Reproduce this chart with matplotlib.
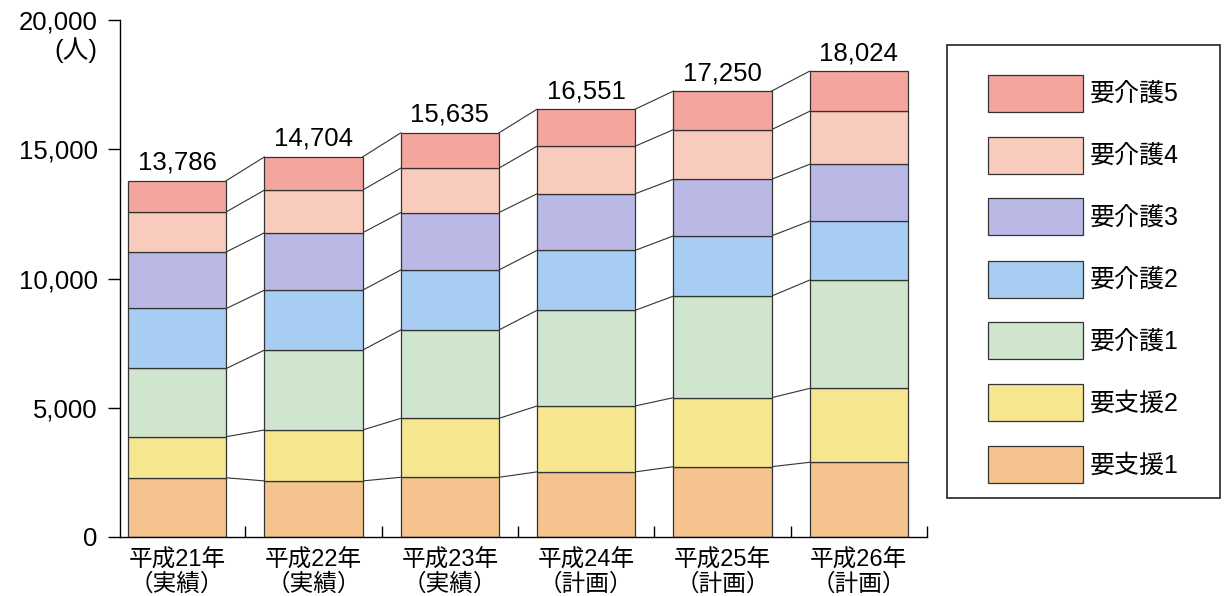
import matplotlib.pyplot as plt
from matplotlib.patches import Patch, Rectangle
from matplotlib.ticker import FuncFormatter

plt.rcParams['font.family'] = ['Liberation Sans', 'Noto Sans CJK JP', 'DejaVu Sans']

# 年度
years = ['平成21年\n（実績）', '平成22年\n（実績）', '平成23年\n（実績）',
         '平成24年\n（計画）', '平成25年\n（計画）', '平成26年\n（計画）']
totals = [13786, 14704, 15635, 16551, 17250, 18024]

# 区分ごとの人数（下から）
shien1 = [2290, 2170, 2310, 2520, 2720, 2890]
shien2 = [1590, 1970, 2280, 2550, 2670, 2860]
kaigo1 = [2640, 3090, 3420, 3700, 3930, 4190]
kaigo2 = [2320, 2320, 2320, 2320, 2330, 2280]
kaigo3 = [2190, 2220, 2220, 2190, 2190, 2200]
kaigo4 = [1550, 1650, 1720, 1840, 1920, 2050]
# 要介護5 = 合計 - その他
kaigo5 = [t - a - b - c - d - e - f for t, a, b, c, d, e, f in
          zip(totals, shien1, shien2, kaigo1, kaigo2, kaigo3, kaigo4)]

names = ['要支援1', '要支援2', '要介護1', '要介護2', '要介護3', '要介護4', '要介護5']
series = [shien1, shien2, kaigo1, kaigo2, kaigo3, kaigo4, kaigo5]
colors = ['#f5c48e', '#f7e690', '#cfe5cd', '#a8cdf3', '#bab9e6', '#f9cbbd', '#f4a59e']

fig = plt.figure(figsize=(12.24, 5.96), dpi=100)
ax = fig.add_axes([120 / 1224, 59 / 596, (927 - 120) / 1224, (537 - 20) / 596])

x = list(range(len(years)))
w = 0.72
bottom = [0] * len(x)
tops = []
for vals, name, c in zip(series, names, colors):
    ax.bar(x, vals, w, bottom=bottom, color=c, edgecolor='#333333',
           linewidth=0.9, label=name, zorder=2)
    bottom = [b + v for b, v in zip(bottom, vals)]
    tops.append(bottom[:])

# 棒の間の接続線
for cum in tops:
    for i in range(len(x) - 1):
        ax.plot([x[i] + w / 2, x[i + 1] - w / 2], [cum[i], cum[i + 1]],
                color='#333333', linewidth=0.8, zorder=1)

for i, t in enumerate(totals):
    ax.text(x[i], t + 230, f'{t:,}', ha='center', va='bottom', fontsize=18.5)

ax.set_ylim(0, 20000)
ax.set_xlim(-0.42, 5.5)
ax.set_yticks([0, 5000, 10000, 15000, 20000])
ax.yaxis.set_major_formatter(FuncFormatter(lambda v, p: f'{int(v):,}'))
ax.tick_params(axis='y', labelsize=18.5, length=9, width=1, direction='out', pad=7)

ax.set_xticks(x)
ax.set_xticklabels(years, fontsize=17, linespacing=1.1)
ax.set_xticks([i + 0.5 for i in x], minor=True)
ax.tick_params(axis='x', which='major', length=0, pad=9)
ax.tick_params(axis='x', which='minor', length=8, width=1, direction='in')

for s in ['top', 'right']:
    ax.spines[s].set_visible(False)
ax.spines['left'].set_linewidth(1)
ax.spines['bottom'].set_linewidth(1)

fig.text(97 / 1224, 1 - 50 / 596, '(人)', ha='right', va='center', fontsize=18.5)

# 凡例の枠
fig.patches.append(Rectangle((947 / 1224, 1 - 498 / 596), (1220 - 947) / 1224, (498 - 45) / 596,
                             transform=fig.transFigure, facecolor='white',
                             edgecolor='#222222', linewidth=1.2, zorder=0))

handles = [Patch(facecolor=c, edgecolor='#333333', linewidth=0.9) for c in colors]
leg = fig.legend(handles[::-1], names[::-1], loc='upper left',
                 bbox_to_anchor=(966 / 1224, 1 - 53 / 596),
                 fontsize=18, handlelength=3.8, handleheight=1.9, handletextpad=0.3,
                 labelspacing=1.0, borderpad=0.86, borderaxespad=0, frameon=False)

fig.savefig('out.png', dpi=100)
